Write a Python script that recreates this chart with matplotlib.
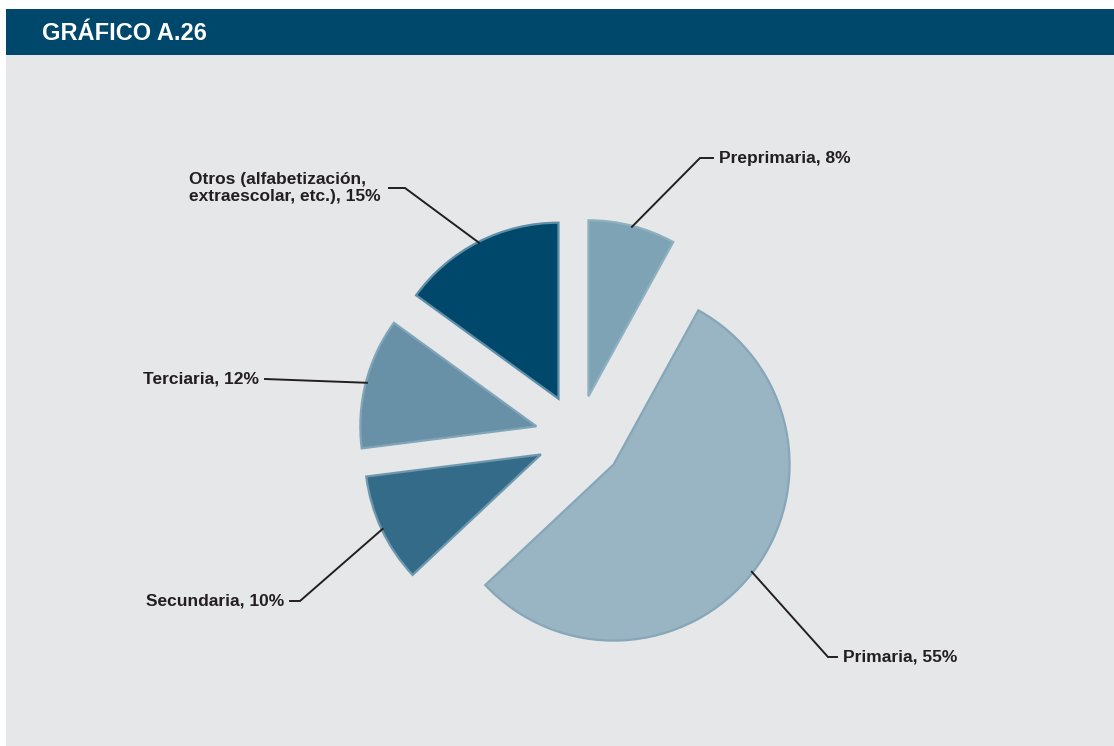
import numpy as np
import matplotlib.pyplot as plt
from matplotlib.patches import Rectangle

W, H = 1114, 746

# slices, clockwise from 12 o'clock
labels = ['Preprimaria, 8%', 'Primaria, 55%', 'Secundaria, 10%',
          'Terciaria, 12%', 'Otros (alfabetización,\nextraescolar, etc.), 15%']
values = [8, 55, 10, 12, 15]
colors = ['#7ea3b5', '#99b4c3', '#336b89', '#6890a7', '#00486b']
edges = ['#8fb0c0', '#86a7b8', '#6f98ae', '#80a5b8', '#5f8ea8']

# label layout in pixel coords: text anchor, knee of leader line, text side
label_pos = [(719, 158, 'left'), (843, 657, 'left'), (284, 601, 'right'),
             (259, 379, 'right'), (383, 188, 'right')]
knees = [(700, 158), (828, 657), (300, 601), (265, 379), (405, 188)]

fig = plt.figure(figsize=(W / 100, H / 100), dpi=100)
fig.patch.set_facecolor('white')
ax = fig.add_axes([0, 0, 1, 1])

def py(y):
    return H - y

# background panel and header band
ax.add_patch(Rectangle((6, 0), W - 6, py(55), facecolor='#e6e7e9', edgecolor='none', zorder=0))
ax.add_patch(Rectangle((6, py(55)), W - 6, 46, facecolor='#00486b', edgecolor='none', zorder=0))
ax.text(42, py(33), 'GRÁFICO A.26', color='white', fontsize=17, fontweight='bold',
        family='Liberation Sans', va='center', ha='left')

# pie explode is in data units (pixels here)
explode = [42, 45, 41, 43, 43]
wedges, _ = ax.pie(values, colors=colors, radius=176, center=(578, py(437)),
                   startangle=90, counterclock=False, explode=explode, frame=True,
                   wedgeprops=dict(linewidth=1.6))
for w, ec in zip(wedges, edges):
    w.set_edgecolor(ec)
ax.set_xlim(0, W)
ax.set_ylim(0, H)
ax.set_aspect('equal')
ax.axis('off')

for w, lab, (tx, ty, ha), (kx, ky) in zip(wedges, labels, label_pos, knees):
    mid = np.deg2rad((w.theta1 + w.theta2) / 2)
    cx, cy = w.center
    ax0 = cx + (w.r - 1) * np.cos(mid)
    ay0 = cy + (w.r - 1) * np.sin(mid)
    ex = tx - 6 if ha == 'left' else tx + 6
    ax.plot([ax0, kx, ex], [ay0, py(ky), py(ky)], color='#231f20', lw=1.4,
            solid_joinstyle='miter', zorder=3)
    if '\n' in lab:
        ax.text(189, py(ky), lab, ha='left', va='center', fontsize=12.5,
                fontweight='bold', color='#231f20', family='Liberation Sans',
                linespacing=1.1)
    else:
        ax.text(tx, py(ty), lab, ha=ha, va='center', fontsize=12.5,
                fontweight='bold', color='#231f20', family='Liberation Sans')

fig.savefig('out.png', dpi=100)
